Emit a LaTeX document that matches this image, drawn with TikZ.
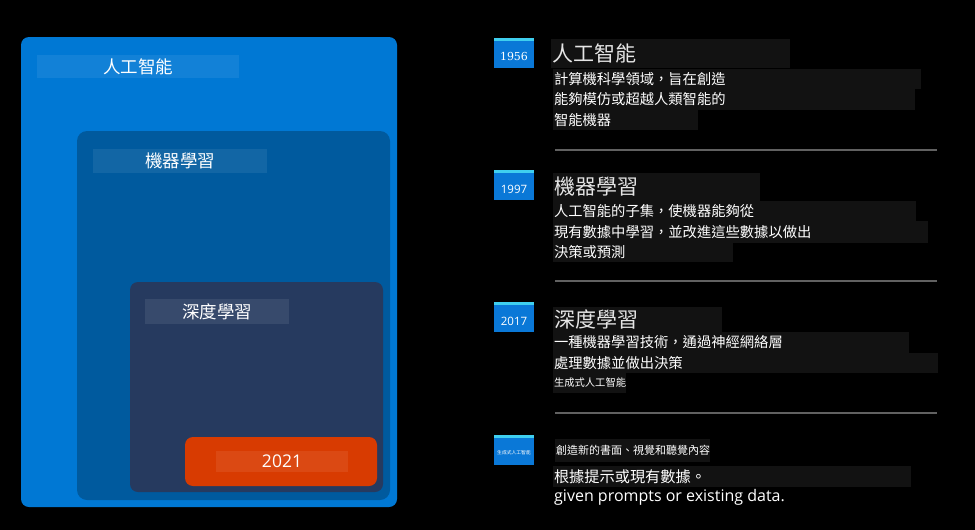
\documentclass[tikz,border=0pt]{standalone}
\usepackage{fontspec}
\setmainfont{Noto Sans CJK TC}
\newfontfamily\latinfont{Open Sans}
\newfontfamily\yearfont{DejaVu Serif}
\usetikzlibrary{positioning}
\definecolor{aiblue}{HTML}{0078D4}
\definecolor{mlblue}{HTML}{005A9E}
\definecolor{dlnavy}{HTML}{263A5F}
\definecolor{genorange}{HTML}{D83B01}
\definecolor{badgeblue}{HTML}{0A78D7}
\definecolor{stripcyan}{HTML}{3FCFEF}
\definecolor{linebg}{HTML}{121212}

\begin{document}
\begin{tikzpicture}[x=1pt,y=-1pt,font=\fontsize{14.3}{16}\selectfont,
area/.style={anchor=north west,inner sep=0pt,outer sep=0pt,rounded corners=8pt},
tag/.style={anchor=north west,inner sep=0pt,outer sep=0pt,text=white,font=\fontsize{17.5}{19}\selectfont},
badge/.style={anchor=north west,inner sep=0pt,outer sep=0pt,fill=badgeblue,minimum width=40pt,minimum height=30pt,
  text=white,font=\latinfont\fontsize{11.5}{13}\selectfont,text height=16.2pt,text depth=0pt,
  path picture={\fill[stripcyan] (path picture bounding box.north west) rectangle ([yshift=-3pt]path picture bounding box.north east);}},
tline/.style={anchor=north west,fill=linebg,inner xsep=1pt,inner ysep=0pt,outer sep=0pt,align=left,text=white},
ttl/.style={tline,text=white!90!black,font=\fontsize{21}{23}\selectfont},
sep/.style={draw=white!38!black,line width=1.2pt}]
\useasboundingbox[fill=black] (0,0) rectangle (975,530);

% nested areas
\node[area,fill=aiblue,minimum width=376pt,minimum height=470pt] (ai) at (21,37) {};
\node[area,fill=mlblue,rounded corners=10pt,minimum width=313pt,minimum height=369pt] (ml) at (77,131) {};
\node[area,fill=dlnavy,minimum width=253pt,minimum height=210pt] (dl) at (130,282) {};
\node[area,fill=genorange,minimum width=192pt,minimum height=49pt] (gen) at (185,437) {};

\node[tag,fill=aiblue!93!white,minimum width=202pt,minimum height=23pt] (aitag) at (37,55) {人工智能};
\node[tag,fill=mlblue!93!white,minimum width=174pt,minimum height=24pt] (mltag) at (93,149) {機器學習};
\node[tag,fill=dlnavy!92!white,minimum width=144pt,minimum height=25pt] (dltag) at (145,299) {深度學習};
\node[tag,fill=genorange!93!white,minimum width=132pt,minimum height=21pt,font=\latinfont\fontsize{17.5}{19}\selectfont] (gentag) at (216,451) {2021};

% timeline
\node[badge,font=\yearfont\fontsize{11}{12}\selectfont,text height=15pt] (y1956) at (494,38) {1956};
\node[ttl,text width=237pt,minimum height=29pt] (t1956) at (551,39) {人工智能};
\node[tline,text width=366pt,minimum height=20pt] (a1) at (553,69) {計算機科學領域，旨在創造};
\node[tline,text width=360pt,minimum height=21pt] (a2) at (553,89) {能夠模仿或超越人類智能的};
\node[tline,text width=143pt,minimum height=20pt] (a3) at (553,110) {智能機器};
\coordinate (s1a) at (555,150);
\coordinate (s1b) at (937,150);
\draw[sep] (s1a) -- (s1b);

\node[badge] (y1997) at (494,170) {1997};
\node[ttl,text width=205pt,minimum height=28pt] (t1997) at (553,173) {機器學習};
\node[tline,text width=361pt,minimum height=20pt] (b1) at (553,201) {人工智能的子集，使機器能夠從};
\node[tline,text width=373pt,minimum height=22pt] (b2) at (553,221) {現有數據中學習，並改進這些數據以做出};
\node[tline,text width=178pt,minimum height=19pt] (b3) at (553,243) {決策或預測};
\coordinate (s2a) at (555,281);
\coordinate (s2b) at (937,281);
\draw[sep] (s2a) -- (s2b);

\node[badge] (y2017) at (494,302) {2017};
\node[ttl,text width=167pt,minimum height=25pt] (t2017) at (553,307) {深度學習};
\node[tline,text width=354pt,minimum height=21pt] (c1) at (553,332) {一種機器學習技術，通過神經網絡層};
\node[tline,text width=383pt,minimum height=20pt] (c2) at (553,353) {處理數據並做出決策};
\node[tline,text width=71pt,minimum height=20pt,font=\fontsize{10.3}{12}\selectfont] (c3) at (553,373) {生成式人工智能};
\coordinate (s3a) at (555,413);
\coordinate (s3b) at (937,413);
\draw[sep] (s3a) -- (s3b);

\node[badge,font=\fontsize{4.8}{5}\selectfont,text height=8pt] (ygen) at (494,435) {生成式人工智能};
\node[tline,text width=153pt,minimum height=23pt,font=\fontsize{11}{13}\selectfont] (d1) at (555,439) {創造新的書面、視覺和聽覺內容};
\node[tline,text width=356pt,minimum height=21pt,font=\fontsize{15.2}{17}\selectfont] (d2) at (553,466) {根據提示或現有數據。};
\node[anchor=north west,inner xsep=1pt,inner ysep=0pt,text=white,font=\latinfont\fontsize{16}{18}\selectfont] (d3) at (553,489) {given prompts or existing data.};
\end{tikzpicture}
\end{document}
